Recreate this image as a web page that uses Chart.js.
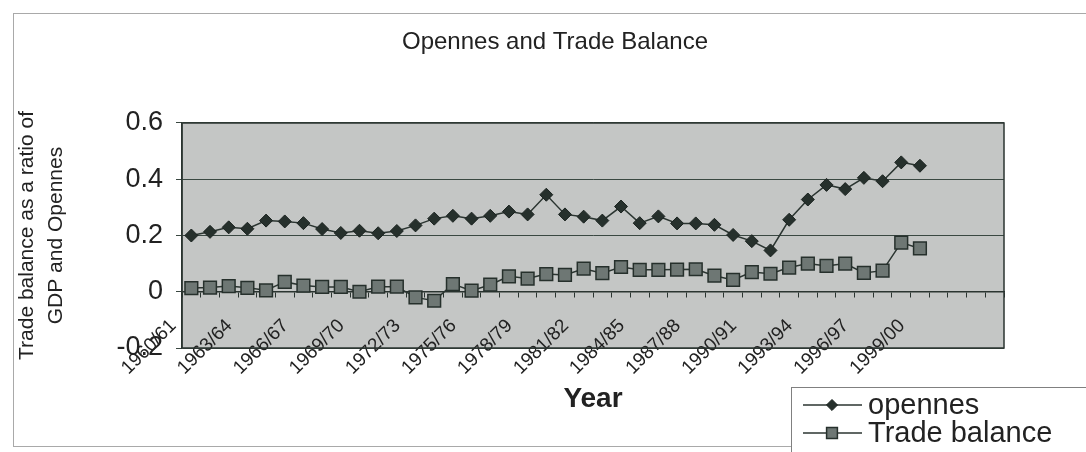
<!DOCTYPE html>
<html>
<head>
<meta charset="utf-8">
<title>Opennes and Trade Balance</title>
<script src="https://cdn.jsdelivr.net/npm/chart.js@4.4.1/dist/chart.umd.min.js"></script>
<style>
  html, body { margin: 0; padding: 0; background: #fff; }
</style>
</head>
<body>
<canvas id="chart" width="1086" height="452"></canvas>
<script>
// Years on the category axis, the sheet leaves a few empty rows after 1999/00
const categories = [
  '1960/61', '1961/62', '1962/63', '1963/64', '1964/65', '1965/66', '1966/67', '1967/68',
  '1968/69', '1969/70', '1970/71', '1971/72', '1972/73', '1973/74', '1974/75', '1975/76',
  '1976/77', '1977/78', '1978/79', '1979/80', '1980/81', '1981/82', '1982/83', '1983/84',
  '1984/85', '1985/86', '1986/87', '1987/88', '1988/89', '1989/90', '1990/91', '1991/92',
  '1992/93', '1993/94', '1994/95', '1995/96', '1996/97', '1997/98', '1998/99', '1999/00'
];
const emptyCategories = ['', '', '', ''];

const opennes = [
  0.200, 0.213, 0.229, 0.224, 0.253, 0.250, 0.244, 0.223, 0.209, 0.217,
  0.208, 0.216, 0.236, 0.260, 0.270, 0.260, 0.270, 0.285, 0.275, 0.345,
  0.275, 0.267, 0.253, 0.303, 0.244, 0.268, 0.243, 0.243, 0.238, 0.202,
  0.180, 0.147, 0.256, 0.328, 0.380, 0.365, 0.405, 0.393, 0.460, 0.448
];
const tradeBalance = [
  0.013, 0.015, 0.020, 0.014, 0.005, 0.035, 0.022, 0.017, 0.017, 0.000,
  0.018, 0.018, -0.020, -0.032, 0.027, 0.004, 0.025, 0.055, 0.047, 0.063,
  0.060, 0.082, 0.066, 0.088, 0.078, 0.078, 0.079, 0.080, 0.057, 0.042,
  0.070, 0.064, 0.086, 0.100, 0.092, 0.100, 0.067, 0.075, 0.175, 0.154
];
const yTicks = [-0.2, 0, 0.2, 0.4, 0.6];

const FONT = 'Arial, "Liberation Sans", sans-serif';
const INK = '#222222';
const DARK = '#2b3531';

// grey plot area, its frame and the faint outer border of the chart
const backdrop = {
  id: 'backdrop',
  beforeDraw(chart) {
    const { ctx, chartArea: a } = chart;
    ctx.save();
    ctx.fillStyle = '#ffffff';
    ctx.fillRect(0, 0, chart.width, chart.height);
    ctx.strokeStyle = '#a9a9a9';
    ctx.lineWidth = 1;
    ctx.strokeRect(13.5, 13.5, 1090, 433);
    ctx.fillStyle = '#c4c6c5';
    ctx.fillRect(a.left, a.top, a.right - a.left, a.bottom - a.top);
    ctx.restore();
  },
  beforeDatasetsDraw(chart) {
    const { ctx, chartArea: a } = chart;
    ctx.save();
    ctx.strokeStyle = DARK;
    ctx.lineWidth = 1.5;
    ctx.strokeRect(a.left, a.top, a.right - a.left, a.bottom - a.top);
    ctx.restore();
  }
};

// boxed legend in the bottom right corner, like the Excel one
const boxLegend = {
  id: 'boxLegend',
  afterDraw(chart) {
    const { ctx } = chart;
    ctx.save();
    ctx.fillStyle = '#ffffff';
    ctx.strokeStyle = '#808080';
    ctx.lineWidth = 1;
    ctx.fillRect(791.5, 387.5, 300, 70);
    ctx.strokeRect(791.5, 387.5, 300, 70);
    chart.data.datasets.forEach((ds, i) => {
      const y = 405 + i * 28;
      ctx.strokeStyle = ds.borderColor;
      ctx.lineWidth = ds.borderWidth;
      ctx.beginPath();
      ctx.moveTo(803, y);
      ctx.lineTo(862, y);
      ctx.stroke();
      ctx.fillStyle = ds.pointBackgroundColor;
      ctx.strokeStyle = ds.pointBorderColor;
      ctx.lineWidth = ds.pointBorderWidth;
      Chart.helpers.drawPoint(ctx, {
        pointStyle: ds.pointStyle,
        radius: ds.pointRadius * 0.85,
        rotation: 0,
        borderWidth: ds.pointBorderWidth
      }, 832, y);
      ctx.fillStyle = INK;
      ctx.font = '29px ' + FONT;
      ctx.textBaseline = 'middle';
      ctx.textAlign = 'left';
      ctx.fillText(ds.label, 868, y + 1);
    });
    ctx.restore();
  }
};

new Chart(document.getElementById('chart'), {
  type: 'line',
  data: {
    labels: categories.concat(emptyCategories),
    datasets: [
      {
        label: 'opennes',
        data: opennes,
        borderColor: DARK,
        borderWidth: 1.5,
        pointStyle: 'rectRot',
        pointRadius: 6.5,
        pointBackgroundColor: '#26302c',
        pointBorderColor: '#1b2320',
        pointBorderWidth: 1,
        tension: 0,
        fill: false
      },
      {
        label: 'Trade balance',
        data: tradeBalance,
        borderColor: DARK,
        borderWidth: 1.5,
        pointStyle: 'rect',
        pointRadius: 9,
        pointBackgroundColor: '#6e7774',
        pointBorderColor: '#26302c',
        pointBorderWidth: 1.5,
        tension: 0,
        fill: false
      }
    ]
  },
  options: {
    responsive: false,
    animation: false,
    devicePixelRatio: 1,
    layout: { padding: { left: 106, right: 82, top: 0, bottom: 104 } },
    plugins: {
      legend: { display: false },
      tooltip: { enabled: false },
      title: {
        display: true,
        text: 'Opennes and Trade Balance',
        color: INK,
        font: { family: FONT, size: 24, weight: 'normal', lineHeight: 1.2 },
        padding: { top: 27.6, bottom: 66.6 }
      }
    },
    scales: {
      x: {
        type: 'category',
        position: { y: 0 },
        offset: true,
        grid: {
          display: true,
          offset: true,
          drawOnChartArea: false,
          drawTicks: true,
          tickLength: 5,
          color: DARK
        },
        border: { display: true, color: DARK, width: 1.5 },
        ticks: {
          autoSkip: false,
          minRotation: 45,
          maxRotation: 45,
          padding: 18,
          labelOffset: -18,
          color: INK,
          font: { family: FONT, size: 19 },
          callback(value, index) {
            return index % 3 === 0 ? this.getLabelForValue(value) : '';
          }
        },
        title: {
          display: true,
          text: 'Year',
          color: INK,
          font: { family: FONT, size: 28, weight: 'bold', lineHeight: 1.2 },
          padding: { top: -15, bottom: 0 }
        }
      },
      y: {
        min: yTicks[0],
        max: yTicks[yTicks.length - 1],
        afterFit(scale) { scale.width = 76; },
        grid: {
          color: '#3a4842',
          lineWidth: 1,
          drawTicks: true,
          tickLength: 6
        },
        border: { display: true, color: DARK, width: 1.5 },
        ticks: {
          stepSize: 0.2,
          padding: 13,
          color: INK,
          font: { family: FONT, size: 27 },
          callback(value) { return String(Math.round(value * 10) / 10); }
        },
        title: {
          display: true,
          text: ['Trade balance as a ratio of', 'GDP and Opennes'],
          color: INK,
          font: { family: FONT, size: 21, lineHeight: 1.4 },
          padding: { top: -93.7, bottom: 0 }
        }
      }
    }
  },
  plugins: [backdrop, boxLegend]
});
</script>
</body>
</html>
